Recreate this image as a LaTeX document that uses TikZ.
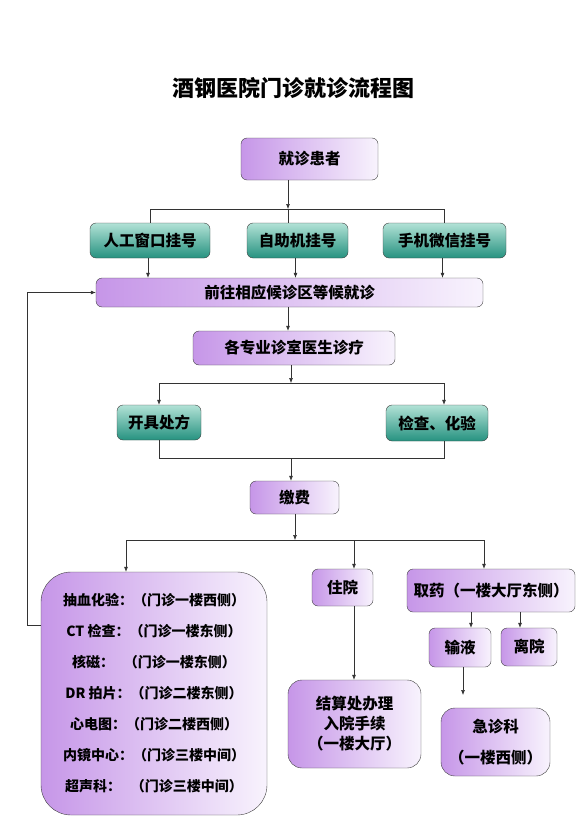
\documentclass[tikz,border=0pt]{standalone}
\usepackage{fontspec}
\setmainfont{Noto Sans CJK SC}
\usetikzlibrary{arrows.meta}

\definecolor{purpD}{RGB}{198,150,232}
\definecolor{purpL}{RGB}{248,243,253}
\definecolor{tealL}{RGB}{178,226,214}
\definecolor{tealD}{RGB}{38,146,128}

\tikzset{
  pbox/.style={draw=black!75, rounded corners=6pt, left color=purpD, right color=purpL,
    inner sep=0pt, align=center, font=\bfseries\fontsize{15.5}{20}\selectfont},
  tbox/.style={draw=black!75, rounded corners=6pt, top color=tealL, bottom color=tealD,
    inner sep=0pt, font=\bfseries\fontsize{15.5}{20}\selectfont},
  link/.style={draw=black!80, line width=0.6pt},
  >={Latex[length=5pt,width=4pt]}
}

\begin{document}
\begin{tikzpicture}[x=1pt, y=-1pt]
\useasboundingbox (0,0) rectangle (586,832);

% title
\node[font=\bfseries\fontsize{22}{26}\selectfont] (title) at (293,88) {酒钢医院门诊就诊流程图};

% registration
\node[pbox, minimum width=137pt, minimum height=42pt] (pat) at (309.5,159) {就诊患者};
\node[tbox, minimum width=120pt, minimum height=35pt] (reg1) at (150,240.5) {人工窗口挂号};
\node[tbox, minimum width=101pt, minimum height=35pt] (reg2) at (297.5,240.5) {自助机挂号};
\node[tbox, minimum width=123pt, minimum height=35pt] (reg3) at (444.5,240.5) {手机微信挂号};
\node[pbox, minimum width=387pt, minimum height=29pt] (wait) at (289.5,292.5) {前往相应候诊区等候就诊};
\node[pbox, minimum width=202pt, minimum height=34pt] (doc) at (294,348) {各专业诊室医生诊疗};

% diagnosis
\node[tbox, minimum width=84pt, minimum height=35pt] (pres) at (159,422.5) {开具处方};
\node[tbox, minimum width=102pt, minimum height=36pt] (exam) at (437,423) {检查、化验};
\node[pbox, minimum width=89pt, minimum height=33pt] (pay) at (294.5,497.5) {缴费};

% after payment
\node[pbox, rounded corners=30pt, minimum width=226pt, minimum height=243pt,
  font=\bfseries\fontsize{14}{31}\selectfont] (test) at (154,693.5)
  {抽血化验：（门诊一楼西侧）\\CT 检查：（门诊一楼东侧）\\核磁：\ \ \ （门诊一楼东侧）\\DR 拍片：（门诊二楼东侧）\\心电图：（门诊二楼西侧）\\内镜中心：（门诊三楼中间）\\超声科：\ \ \ （门诊三楼中间）};
\node[pbox, minimum width=61pt, minimum height=37pt] (inp) at (342.5,587.5) {住院};
\node[pbox, minimum width=168pt, minimum height=43pt] (med) at (491,590.5) {取药（一楼大厅东侧）};
\node[pbox, minimum width=62pt, minimum height=39pt] (inf) at (460,647.5) {输液};
\node[pbox, minimum width=56pt, minimum height=38pt] (leave) at (529,647) {离院};
\node[pbox, rounded corners=14pt, minimum width=133pt, minimum height=88pt] (settle) at (354.5,724)
  {结算处办理\\入院手续\\（一楼大厅）};
\node[pbox, rounded corners=14pt, minimum width=109pt, minimum height=68pt,
  font=\bfseries\fontsize{15.5}{31}\selectfont] (emerg) at (495.5,742) {急诊科\\（一楼西侧）};

% junctions
\coordinate (j1) at (288,209);
\coordinate (j2) at (291,383);
\coordinate (j3) at (291,458);
\coordinate (j4) at (295,540);
\coordinate (drip) at (463,695);

\draw[link, ->] (pat.south -| j1) -- (j1);
\draw[link] (reg1.north) -- (reg1.north |- j1) -- (reg3.north |- j1) -- (reg3.north);
\draw[link] (j1) -- (reg2.north -| j1);
\foreach \r in {reg1, reg2, reg3}
  \draw[link, ->] ([xshift=-2pt]\r.south) -- ([xshift=-2pt]\r.south |- wait.north);
\draw[link, ->] (wait.south -| j1) -- (doc.north -| j1);

\draw[link, ->] (doc.south -| j2) -- (j2);
\draw[link, ->] (pres.north |- j2) -- (pres.north);
\draw[link] (pres.north |- j2) -- (444,383);
\draw[link, ->] (444,383) -- (exam.north -| 444,0);
\draw[link] (pres.south) -- (pres.south |- j3) -- (444,458) -- (exam.south -| 444,0);
\draw[link, ->] (j3) -- (pay.north -| j3);

\draw[link, ->] (pay.south -| j4) -- (j4);
\draw[link] (126,540) -- (484,540);
\draw[link, ->] (126,540) -- (test.north -| 126,0);
\draw[link, ->] (354,540) -- (inp.north -| 354,0);
\draw[link, ->] (484,540) -- (med.north -| 484,0);
\draw[link, ->] (med.south -| 471,0) -- (inf.north -| 471,0);
\draw[link, ->] (med.south -| 520,0) -- (leave.north -| 520,0);
\draw[link, ->] (inp.south -| 354,0) -- (settle.north -| 354,0);
\draw[link, ->] (inf.south -| drip) -- (drip);

% back to waiting
\draw[link, ->] (test.west |- 0,625) -- (27,625) |- (wait.west);

\end{tikzpicture}
\end{document}
